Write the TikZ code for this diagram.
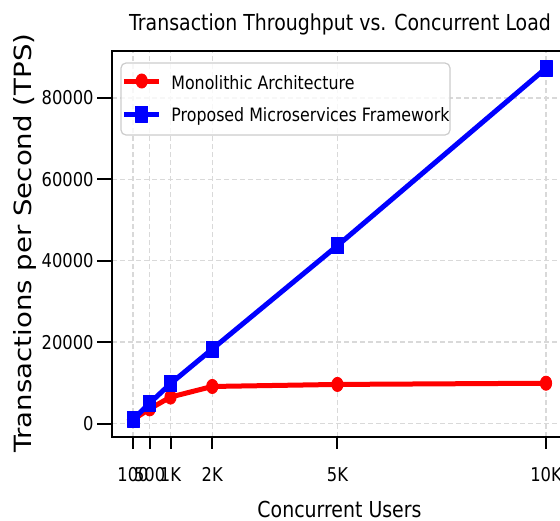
\documentclass[tikz,border=0pt]{standalone}
\usepackage{graphicx}
\usepackage{fontspec}
\setmainfont[FakeStretch=0.86]{DejaVu Sans}
\newfontfamily\ylabfont{DejaVu Sans}
\usepackage{tikz}
\usetikzlibrary{plotmarks}

\begin{document}
\begin{tikzpicture}[x=0.5pt,y=-0.5pt,
  gridline/.style={black!15,line width=0.75pt,dash pattern=on 2.4pt off 1.6pt},
  spine/.style={black,line width=1pt,line join=miter},
  ticklabel/.style={font=\fontsize{9.5}{11}\selectfont,inner sep=0pt},
  series/.style={line width=2.5pt,line join=round},
  monolith/.style={series,red,mark=*,mark size=3.55pt,mark options={solid,line width=0.4pt,xscale=0.8}},
  microsvc/.style={series,blue,mark=square*,mark size=4pt,mark options={solid,line width=0.4pt,xscale=0.76}}]
\useasboundingbox (0,0) rectangle (560,520);
\clip (0,0) rectangle (560,520);
% title and axis labels
\node[anchor=base,inner sep=0pt,font=\fontsize{11}{13}\selectfont] (title) at (340,30) {Transaction Throughput vs. Concurrent Load};
\node[anchor=base,inner sep=0pt,font=\fontsize{11}{13}\selectfont] (xlabel) at (339.5,517) {Concurrent Users};
\node[rotate=90,anchor=base,inner sep=0pt,font=\ylabfont\fontsize{13.8}{15}\selectfont] (ylabel) at (32,243) {\scalebox{1}[0.86]{Transactions per Second (TPS)}};
% data area: x in thousands of users, y in thousands of TPS
\begin{scope}[shift={(128.83,423.5)},x=20.8585pt,y=2.035pt]
  \coordinate (ax-tl) at (-0.403,91.5);
  \coordinate (ax-bl) at (-0.403,-3.32);
  \coordinate (ax-tr) at (10.8,91.5);
  \coordinate (ax-br) at (10.8,-3.32);
  % grid
  \foreach \u in {0.1,0.5,1,2,5,10}
    \draw[gridline] (\u,-3.32) -- (\u,91.5);
  \foreach \v in {0,20,40,60,80}
    \draw[gridline] (-0.403,\v) -- (10.8,\v);
  % series
  \draw[monolith] plot coordinates {(0.1,0.95) (0.5,3.6) (1,6.5) (2,9.1) (5,9.6) (10,9.9)};
  \draw[microsvc] plot coordinates {(0.1,1.0) (0.5,5.0) (1,9.8) (2,18.3) (5,43.7) (10,87.3)};
  % spines
  \draw[spine] (ax-tr) -- (ax-tl) -- (ax-bl) -- (ax-br);
  % ticks
  \foreach \u/\lab in {0.1/100,0.5/500,1/1K,2/2K,5/5K,10/10K}{
    \coordinate (xt-\lab) at (\u,-3.32);
    \draw[spine] (xt-\lab) -- ++(0pt,-6pt) coordinate (xe-\lab);
    \node[ticklabel,anchor=north,yshift=-9pt] (xl-\lab) at (xe-\lab) {\lab};
  }
  \foreach \v/\lab in {0/0,20/20000,40/40000,60/60000,80/80000}{
    \coordinate (yt-\v) at (-0.403,\v);
    \draw[spine] (yt-\v) -- ++(-7.5pt,0pt) coordinate (ye-\v);
    \node[ticklabel,anchor=east,xshift=-1.5pt] (yl-\v) at (ye-\v) {\lab};
  }
\end{scope}
% legend
\draw[black!20,fill=white,fill opacity=0.8,rounded corners=2.5pt,line width=0.6pt] (121,63) rectangle (450,135);
\draw[monolith,mark indices={2}] plot coordinates {(124,81) (141.7,81) (159,81)};
\node[anchor=base west,inner sep=0pt,font=\fontsize{9.2}{11}\selectfont] (leg-mono) at (171,89) {Monolithic Architecture};
\draw[microsvc,mark indices={2}] plot coordinates {(124,114) (141.7,114) (159,114)};
\node[anchor=base west,inner sep=0pt,font=\fontsize{9.2}{11}\selectfont] (leg-micro) at (171,121.7) {Proposed Microservices Framework};
\end{tikzpicture}
\end{document}
